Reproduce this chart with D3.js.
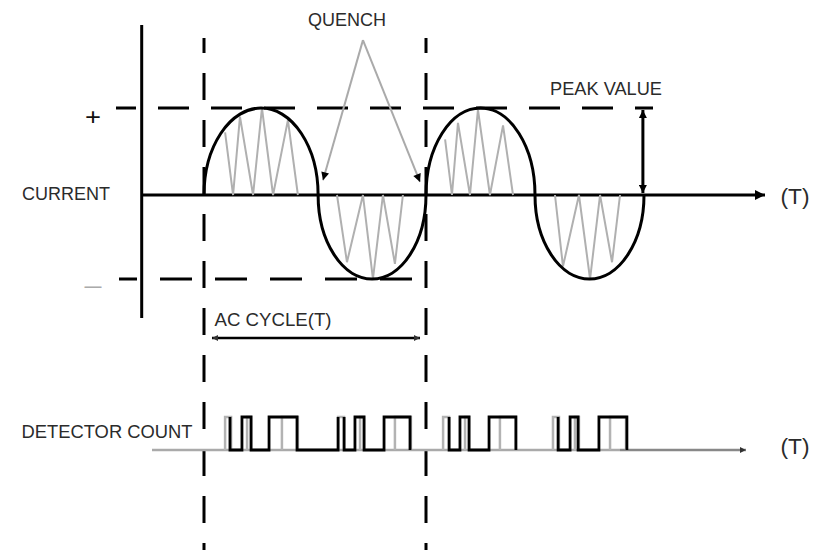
<!DOCTYPE html>
<html>
<head>
<meta charset="utf-8">
<script src="https://cdn.jsdelivr.net/npm/d3@7"></script>
<style>
  body { margin: 0; background: #fff; }
  text { font-family: "Liberation Sans", Arial, sans-serif; fill: #2b2b2b; }
</style>
</head>
<body>
<svg id="chart"></svg>
<script>
// zero crossings of the AC current, time in cycles (T)
const crossings = [0, 0.514, 1.0, 1.491, 1.982];
const lobePeaks = [1, -1, 1, -1];

// quench oscillation inside each half cycle: [time, current]
const quench1T = [0.095, 0.131, 0.162, 0.221, 0.261, 0.311, 0.378, 0.423];
const quench1V = [0.72, 0, 0.9, 0, 1, 0, 0.86, 0];
const quench2T = [0.599, 0.644, 0.716, 0.761, 0.806, 0.860, 0.896];
const quench2V = [0, -0.8, 0, -1, 0, -0.82, 0];
const quench3T = [1.086, 1.117, 1.144, 1.198, 1.234, 1.288, 1.347, 1.392];
const quench3V = [0.64, 0, 0.83, 0, 0.98, 0, 0.8, 0];
const quench4T = [1.581, 1.617, 1.689, 1.739, 1.784, 1.838, 1.874];
const quench4V = [0, -0.85, 0, -1, 0, -0.8, 0];

// detector count, black trace: starts high, then fall, rise, fall ... (time in T)
const blackPulses = [
  [0.117, 0.171, 0.212, 0.293, 0.419, 0.604],
  [0.631, 0.680, 0.721, 0.811, 0.928],
  [1.104, 1.153, 1.194, 1.284, 1.405],
  [1.595, 1.649, 1.685, 1.779, 1.905]
];
// grey trace pulses [rise, fall]
const greyPulses = [
  [0.095, 0.122], [0.194, 0.212], [0.351, 0.423],
  [0.604, 0.631], [0.703, 0.721], [0.860, 0.932],
  [1.077, 1.104], [1.176, 1.194], [1.333, 1.405],
  [1.572, 1.599], [1.671, 1.689], [1.829, 1.901]
];

const quenchApex = [0.716, 1.78];
const quenchTargets = [[0.536, 0.17], [0.973, 0.15]];
const peakT = 1.977;

const width = 819, height = 550;
const svg = d3.select('#chart').attr('width', width).attr('height', height);

const x = d3.scaleLinear().domain([0, 1]).range([204, 426]);
const y = d3.scaleLinear().domain([-1, 0, 1]).range([279, 195, 108]);
const py = d3.scaleLinear().domain([0, 1]).range([450, 417]);

// arrow heads
const defs = svg.append('defs');
function marker(id, len, wid, color) {
  defs.append('marker')
    .attr('id', id)
    .attr('viewBox', '0 0 10 10')
    .attr('refX', 10).attr('refY', 5)
    .attr('markerUnits', 'userSpaceOnUse')
    .attr('markerWidth', len).attr('markerHeight', wid)
    .attr('orient', 'auto-start-reverse')
    .append('path')
    .attr('d', 'M0,0L10,5L0,10Z')
    .attr('fill', color);
}
marker('arrBig', 20, 10, '#000');
marker('arr', 13, 8, '#000');
marker('arrSmall', 9, 6, '#333');

// dashed guides
const vDash = svg.append('g').attr('stroke', '#000').attr('stroke-width', 3)
  .attr('stroke-dasharray', '27,20').attr('stroke-dashoffset', 12);
[0, 1].forEach(t => {
  vDash.append('line').attr('x1', x(t)).attr('x2', x(t)).attr('y1', 38).attr('y2', 550);
});
svg.append('line').attr('x1', 116).attr('x2', 653).attr('y1', y(1)).attr('y2', y(1))
  .attr('stroke', '#000').attr('stroke-width', 3)
  .attr('stroke-dasharray', '31,22').attr('stroke-dashoffset', 11);
svg.append('line').attr('x1', 119).attr('x2', 412).attr('y1', y(-1)).attr('y2', y(-1))
  .attr('stroke', '#000').attr('stroke-width', 3)
  .attr('stroke-dasharray', '32,23').attr('stroke-dashoffset', 14);

// axes
svg.append('line').attr('x1', 141.7).attr('x2', 141.7).attr('y1', 25).attr('y2', 318)
  .attr('stroke', '#000').attr('stroke-width', 3);
svg.append('line').attr('x1', 141).attr('x2', 765).attr('y1', y(0)).attr('y2', y(0))
  .attr('stroke', '#000').attr('stroke-width', 3).attr('marker-end', 'url(#arrBig)');

// quench zigzags
const zig = d3.line().x(d => x(d[0])).y(d => y(d[1]));
[[quench1T, quench1V], [quench2T, quench2V], [quench3T, quench3V], [quench4T, quench4V]]
  .forEach(([ts, vs]) => {
    svg.append('path')
      .attr('d', zig(ts.map((t, i) => [t, vs[i]])))
      .attr('fill', 'none').attr('stroke', '#b0b0b0').attr('stroke-width', 2);
  });

// current wave, one half-ellipse per half cycle
let wave = `M${x(crossings[0])},${y(0)}`;
lobePeaks.forEach((p, i) => {
  const x0 = x(crossings[i]), x1 = x(crossings[i + 1]);
  const rx = (x1 - x0) / 2, ry = Math.abs(y(p) - y(0));
  wave += `A${rx},${ry} 0 0 ${p > 0 ? 1 : 0} ${x1},${y(0)}`;
});
svg.append('path').attr('d', wave).attr('fill', 'none')
  .attr('stroke', '#000').attr('stroke-width', 3);

// quench pointers
quenchTargets.forEach(tg => {
  svg.append('line')
    .attr('x1', x(quenchApex[0])).attr('y1', y(quenchApex[1]))
    .attr('x2', x(tg[0])).attr('y2', y(tg[1]))
    .attr('stroke', '#aaa').attr('stroke-width', 2)
    .attr('marker-end', 'url(#arr)');
});

// peak value arrow
svg.append('line').attr('x1', x(peakT)).attr('x2', x(peakT))
  .attr('y1', y(1) + 2).attr('y2', y(0) - 2)
  .attr('stroke', '#000').attr('stroke-width', 3)
  .attr('marker-start', 'url(#arr)').attr('marker-end', 'url(#arr)');

// AC cycle arrow
svg.append('line').attr('x1', x(0.036)).attr('x2', x(0.973))
  .attr('y1', 338).attr('y2', 338)
  .attr('stroke', '#000').attr('stroke-width', 2.5)
  .attr('marker-start', 'url(#arrSmall)').attr('marker-end', 'url(#arrSmall)');

// detector count
svg.append('line').attr('x1', 152).attr('x2', 620).attr('y1', py(0)).attr('y2', py(0))
  .attr('stroke', '#aaa').attr('stroke-width', 2.5);
svg.append('line').attr('x1', 620).attr('x2', 746).attr('y1', py(0)).attr('y2', py(0))
  .attr('stroke', '#888').attr('stroke-width', 2.5).attr('marker-end', 'url(#arrSmall)');

const step = d3.line().x(d => x(d[0])).y(d => py(d[1])).curve(d3.curveStepAfter);
greyPulses.forEach(p => {
  svg.append('path')
    .attr('d', step([[p[0], 0], [p[0], 1], [p[1], 0], [p[1], 0]]))
    .attr('fill', 'none').attr('stroke', '#b3b3b3').attr('stroke-width', 2.5);
});
blackPulses.forEach(edges => {
  const pts = [[edges[0], 1]];
  edges.forEach((t, i) => pts.push([t, i % 2 === 0 ? 0 : 1]));
  svg.append('path').attr('d', step(pts)).attr('fill', 'none')
    .attr('stroke', '#000').attr('stroke-width', 2.8);
});

// labels
function label(txt, cx, cy, size, len, color) {
  const t = svg.append('text').attr('x', cx).attr('y', cy)
    .attr('text-anchor', 'middle').attr('dominant-baseline', 'central')
    .style('font-size', size + 'px')
    .style('fill', color || null)
    .text(txt);
  if (len) t.attr('textLength', len).attr('lengthAdjust', 'spacingAndGlyphs');
}
label('QUENCH', 347, 20, 18, 78);
label('PEAK VALUE', 606, 89, 18, 112);
label('CURRENT', 66, 194, 18, 88);
label('+', 93, 116, 24, 16, '#111');
label('\u2013', 93, 284, 24, 17, '#aaa');
label('(T)', 795, 196, 22, 29);
label('AC CYCLE(T)', 273, 320, 18, 117);
label('DETECTOR COUNT', 107, 432, 18, 171);
label('(T)', 795, 446, 22, 29);
</script>
</body>
</html>
